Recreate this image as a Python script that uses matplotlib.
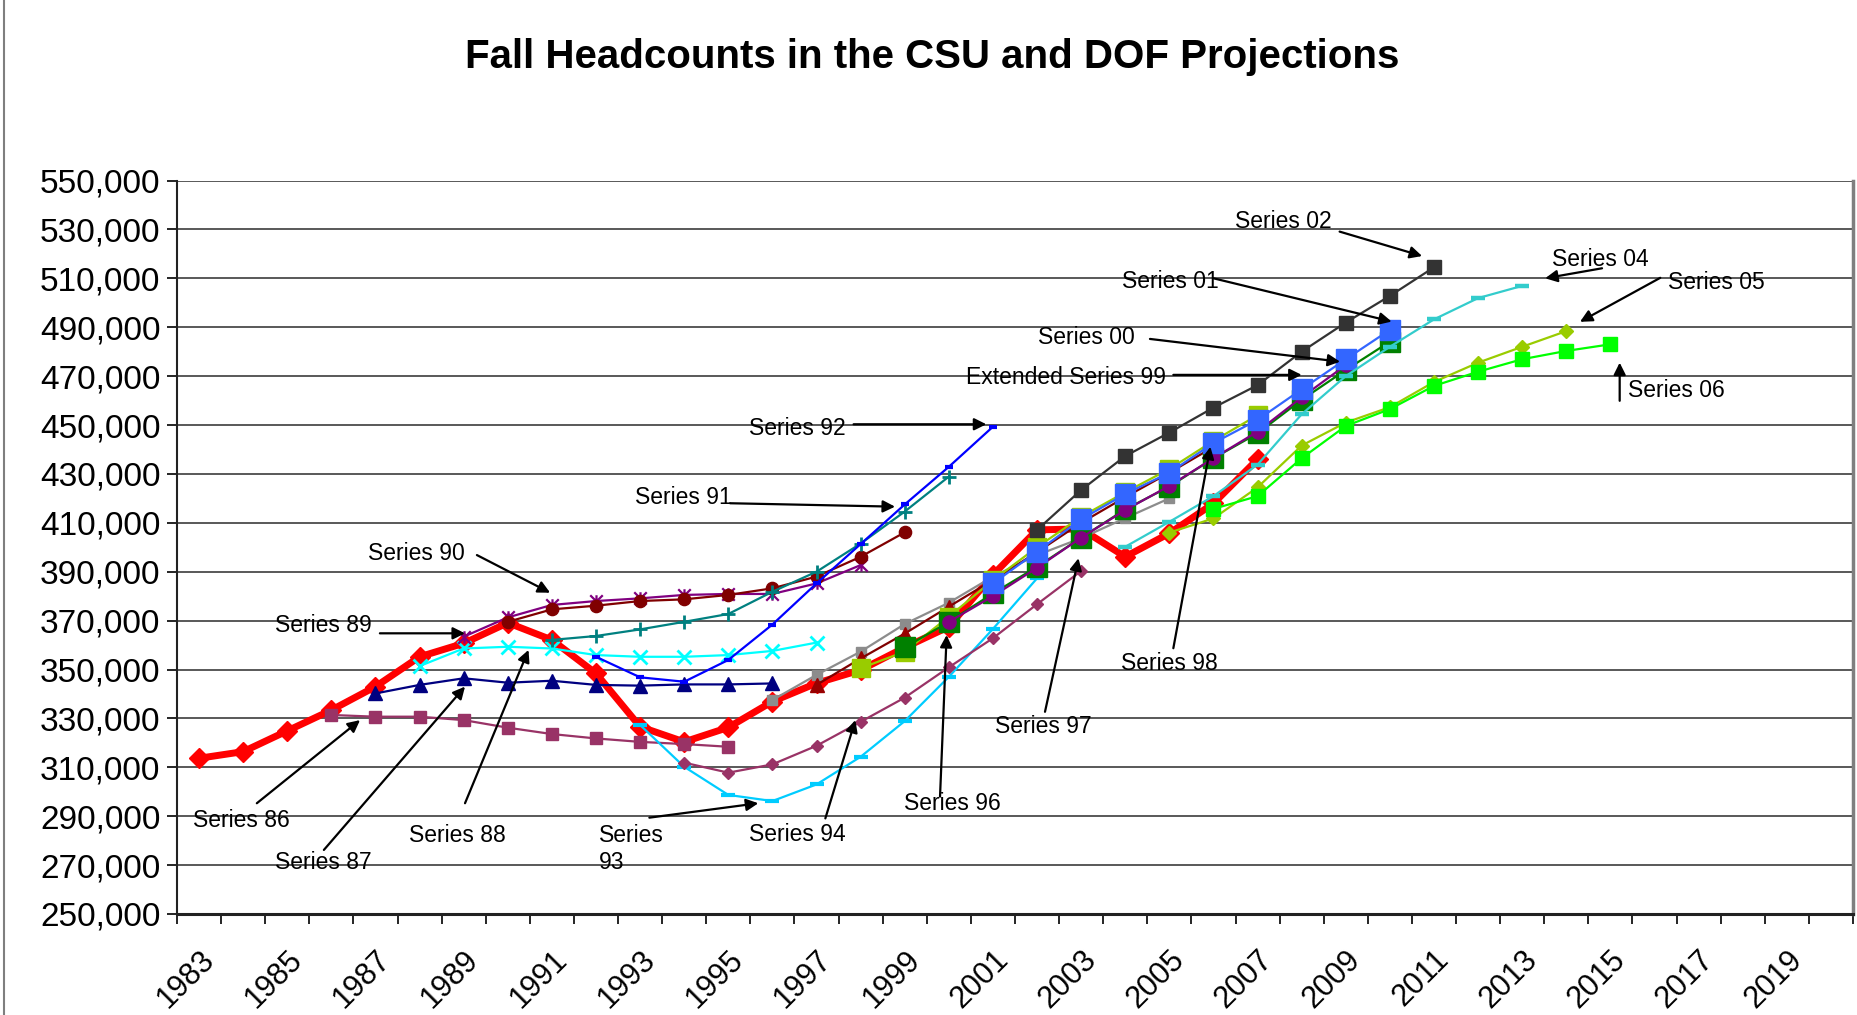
import numpy as np
import matplotlib
matplotlib.use('Agg')
import matplotlib.pyplot as plt
from matplotlib.lines import Line2D
from matplotlib.path import Path
from matplotlib.ticker import FuncFormatter

plt.rcParams['font.family'] = ['Liberation Sans', 'DejaVu Sans']

# ---------------- data ----------------
title = 'Fall Headcounts in the CSU and DOF Projections'
year_ticks = list(range(1983, 2020, 2))
y_ticks = list(range(250000, 550001, 20000))

actual_start = 1983
actual = [313700, 316400, 324900, 333400, 343000, 355200, 360700, 369100, 362100,
          348400, 326600, 320400, 326300, 336900, 344400, 349800, 359000, 367500,
          388700, 407100, 407500, 396100, 405700, 417900, 436000]

s86_start = 1986
s86 = [331400, 330700, 330700, 329300, 326200, 323600, 321800, 320400, 319500, 318400]
s87_start = 1987
s87 = [340200, 343700, 346400, 344600, 345400, 343700, 343400, 343900, 343900, 344300]
s88_start = 1988
s88 = [351400, 358600, 359300, 358600, 355900, 355200, 355200, 355900, 357600, 361000]
s89_start = 1989
s89 = [363400, 371300, 376400, 378000, 379100, 380500, 380900, 380900, 385200, 392700]
s90_start = 1990
s90 = [369500, 374600, 376100, 378000, 378700, 380500, 383200, 388000, 396100, 406100]
s91_start = 1991
s91 = [362100, 363700, 366400, 369500, 372700, 381800, 390000, 401500, 414600, 428900]
s92_start = 1992
s92 = [355200, 346800, 345000, 353900, 368400, 385200, 401300, 417500, 432900, 449300]
s93_start = 1993
s93 = [327300, 310200, 298700, 296200, 303000, 314300, 328900, 347000, 366600, 387300]
s94_start = 1994
s94 = [311900, 307800, 311200, 318800, 328600, 338500, 350900, 362800, 376700, 390300]
s96_start = 1996
s96 = [337500, 347800, 357300, 368600, 377300, 388000, 396800, 403700, 411900, 420000]
s97_start = 1997
s97 = [343700, 354500, 364700, 375700, 386600, 398000, 410000, 420500, 430500, 441000]
s98_start = 1998
s98 = [350500, 357300, 371600, 386500, 400000, 412500, 422500, 432000, 443500, 454000]
s99_start = 1999
s99 = [359000, 369500, 381100, 392000, 403900, 415500, 424800, 436400, 446600, 460300,
       472500, 484100]
s00_start = 2000
s00 = [369500, 380000, 391600, 403900, 415200, 425100, 436400, 447300, 461300, 474500]
s01_start = 2001
s01 = [385200, 398200, 411400, 421800, 430500, 442600, 452100, 464600, 476900, 488900]
s02_start = 2002
s02 = [407100, 423400, 437300, 446900, 457100, 466300, 480000, 491900, 502800, 514500]
s04_start = 2004
s04 = [400200, 410400, 420900, 433800, 454400, 470000, 482000, 493200, 501900, 506900]
s05_start = 2005
s05 = [406000, 411800, 424500, 441600, 451000, 457300, 467600, 475500, 482000, 488400]
s06_start = 2006
s06 = [415700, 420900, 436400, 449600, 456500, 466000, 471800, 476900, 480300, 483000]

# ---------------- figure ----------------
W, H = 1858, 1015
fig = plt.figure(figsize=(W / 100, H / 100), dpi=100)
ax = fig.add_axes([177 / W, 1 - 914 / H, (1853 - 177) / W, (914 - 180.5) / H])

star = Path([(0, -1), (0, 1), (-1, -1), (1, 1), (-1, 1), (1, -1)],
            [Path.MOVETO, Path.LINETO, Path.MOVETO, Path.LINETO, Path.MOVETO, Path.LINETO])


def yrs(start, vals):
    return np.arange(start, start + len(vals))


# actual (thick red)
ax.plot(yrs(actual_start, actual), actual, color='#FF0000', lw=5.0, marker='D', ms=10.5,
        mfc='#FF0000', mec='#FF0000', zorder=3, solid_joinstyle='miter')

styles = [
    (s86_start, s86, '#993366', 's', 8.2, dict(mfc='#993366', mec='#993366')),
    (s87_start, s87, '#000080', '^', 9.6, dict(mfc='#000080', mec='#000080')),
    (s88_start, s88, '#00FFFF', 'x', 9.6, dict(mew=2.0)),
    (s89_start, s89, '#800080', star, 9.0, dict(mew=1.6)),
    (s90_start, s90, '#800000', 'o', 8.8, dict(mfc='#800000', mec='#800000')),
    (s91_start, s91, '#008080', '+', 10.0, dict(mew=2.0)),
    (s92_start, s92, '#0000FF', '_', 6.0, dict(mew=3.0)),
    (s93_start, s93, '#00CCFF', '_', 9.5, dict(mew=3.0)),
    (s94_start, s94, '#993366', 'D', 6.0, dict(mfc='#993366', mec='#993366')),
    (s96_start, s96, '#8C8C8C', 's', 7.5, dict(mfc='#8C8C8C', mec='#8C8C8C')),
    (s97_start, s97, '#800000', '^', 9.6, dict(mfc='#990000', mec='#990000')),
    (s98_start, s98, '#99CC00', 's', 13.0, dict(mfc='#99CC00', mec='#99CC00')),
    (s99_start, s99, '#008000', 's', 14.0, dict(mfc='#008000', mec='#008000')),
    (s00_start, s00, '#800080', 'o', 9.5, dict(mfc='#800080', mec='#800080')),
    (s01_start, s01, '#3366FF', 's', 14.4, dict(mfc='#3366FF', mec='#3366FF')),
    (s02_start, s02, '#333333', 's', 9.4, dict(mfc='#333333', mec='#333333')),
    (s04_start, s04, '#33CCCC', '_', 9.5, dict(mew=3.2)),
    (s05_start, s05, '#99CC00', 'D', 7.0, dict(mfc='#99CC00', mec='#99CC00')),
    (s06_start, s06, '#00FF00', 's', 9.6, dict(mfc='#00FF00', mec='#00FF00')),
]
for i, (st, vals, col, mk, ms, kw) in enumerate(styles):
    ax.plot(yrs(st, vals), vals, color=col, lw=1.6, marker=mk, ms=ms, zorder=4 + i * 0.1, **kw)

# ---------------- axes ----------------
ax.set_xlim(1982.5, 2020.5)
ax.set_ylim(250000, 550000)
ax.set_yticks(y_ticks)
ax.yaxis.set_major_formatter(FuncFormatter(lambda v, p: f'{int(v):,}'))
ax.yaxis.grid(True, color='#3c3c3c', lw=1.2)
ax.set_axisbelow(True)
ax.tick_params(axis='y', direction='out', length=7, width=1.2, labelsize=24, pad=5, colors='black')

ax.set_xticks(year_ticks)
ax.set_xticklabels([str(y) for y in year_ticks], rotation=45, ha='right', va='top',
                   rotation_mode='anchor', fontsize=22)
ax.set_xticks(np.arange(1982.5, 2021.0, 1.0), minor=True)
ax.tick_params(axis='x', which='major', length=0, pad=22)
ax.tick_params(axis='x', which='minor', direction='out', length=7, width=1.2)

ax.spines['top'].set_visible(False)
ax.spines['left'].set_color('#222222')
ax.spines['left'].set_linewidth(1.5)
ax.spines['bottom'].set_color('#222222')
ax.spines['bottom'].set_linewidth(2.2)
ax.spines['right'].set_color('#7f7f7f')
ax.spines['right'].set_linewidth(2.5)

fig.add_artist(Line2D([4 / W, 4 / W], [0, 1], color='#7f7f7f', lw=1.5, transform=fig.transFigure))

fig.text(932 / W, 1 - 57 / H, title, ha='center', va='center', fontsize=29, fontweight='bold')

# ---------------- annotations ----------------
afs = 16.5
arrow = dict(arrowstyle='-|>', color='black', lw=1.6, mutation_scale=18, shrinkA=0, shrinkB=0)

labels = [
    # text, text pos, ha, tail, tip
    ('Series 90', (1986.83, 397500), 'left', (1989.30, 396800), (1990.96, 381400)),
    ('Series 89', (1984.72, 367800), 'left', (1987.10, 364800), (1989.03, 364800)),
    ('Series 86', (1982.86, 288400), 'left', (1984.31, 295300), (1986.65, 329300)),
    ('Series 87', (1984.72, 271000), 'left', (1985.83, 276200), (1989.03, 343000)),
    ('Series 88', (1987.77, 282300), 'left', (1989.03, 295300), (1990.47, 358000)),
    ('Series\n93', (1992.07, 276600), 'left', (1993.21, 289400), (1995.68, 295300)),
    ('Series 94', (1995.46, 282700), 'left', (1997.20, 289100), (1997.88, 329300)),
    ('Series 96', (1998.99, 295300), 'left', (1999.80, 298000), (1999.95, 364100)),
    ('Series 97', (2001.05, 326600), 'left', (2002.18, 332700), (2002.94, 395500)),
    ('Series 98', (2003.90, 352500), 'left', (2005.09, 358700), (2005.93, 441100)),
    ('Series 92', (1995.46, 448700), 'left', (1997.84, 450300), (2000.85, 450300)),
    ('Series 91', (1992.89, 420400), 'left', (1995.04, 418000), (1998.78, 416600)),
    ('Series 00', (2002.03, 485700), 'left', (2004.56, 485200), (2008.87, 475900)),
    ('Extended Series 99', (2004.92, 469500), 'right', (2005.09, 470500), (2008.00, 470500)),
    ('Series 01', (2006.11, 508500), 'right', (2006.00, 510000), (2010.04, 492300)),
    ('Series 02', (2008.67, 533400), 'right', (2008.86, 529100), (2010.73, 519100)),
    ('Series 04', (2013.67, 517500), 'left', (2014.81, 514100), (2013.52, 510000)),
    ('Series 05', (2016.30, 508200), 'left', (2016.13, 510200), (2014.31, 492200)),
    ('Series 06', (2015.39, 464000), 'left', (2015.21, 459900), (2015.21, 475500)),
]
for txt, pos, ha, tail, tip in labels:
    ax.text(pos[0], pos[1], txt, ha=ha, va='center', fontsize=afs, zorder=10,
            linespacing=1.25)
    ax.annotate('', xy=tip, xytext=tail, arrowprops=arrow, zorder=10)

fig.savefig('out.png', dpi=100)
